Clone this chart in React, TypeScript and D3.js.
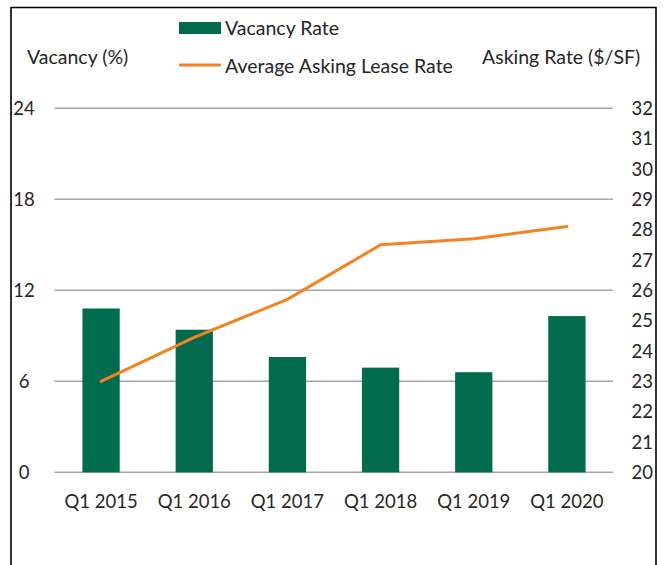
import React from "react";
import * as d3 from "d3";

const categories = ["Q1 2015", "Q1 2016", "Q1 2017", "Q1 2018", "Q1 2019", "Q1 2020"];
const vacancyRate = [10.8, 9.4, 7.6, 6.9, 6.6, 10.3];
const askingRate = [23.0, 24.45, 25.7, 27.5, 27.7, 28.1];
const leftTicks = [0, 6, 12, 18, 24];
const rightTicks = [20, 21, 22, 23, 24, 25, 26, 27, 28, 29, 30, 31, 32];

const W = 666;
const H = 565;
const FONT = "Lato, 'Open Sans', sans-serif";
const FS = 18.5;
const FS_T = 19.5;
const GREEN = "#006B4D";
const ORANGE = "#F58220";

export default function App() {
  const x = d3.scaleBand<string>().domain(categories).range([54.5, 613.5]).paddingInner(0.6).paddingOuter(0.3);
  const yL = d3.scaleLinear().domain([0, 24]).range([472.3, 108.3]);
  const yR = d3.scaleLinear().domain([20, 32]).range([472.3, 108.3]);
  const line = d3
    .line<number>()
    .x((_, i) => (x(categories[i]) as number) + x.bandwidth() / 2)
    .y((d) => yR(d));

  return (
    <svg
      width={W}
      height={H}
      style={{ position: "absolute", left: 0, top: 0, background: "#fff" }}
      fontFamily={FONT}
    >
      <rect x={0} y={0} width={W} height={H} fill="#fff" />
      {/* frame */}
      <path d={`M11,${H + 5} L11,7.5 L656,7.5 L656,${H + 5}`} fill="none" stroke="#000" strokeWidth={1.6} />

      {/* gridlines */}
      {leftTicks.map((t) => (
        <line key={t} x1={54.5} x2={613} y1={yL(t)} y2={yL(t)} stroke="#A6A6A6" strokeWidth={1.5} />
      ))}

      {/* bars */}
      {vacancyRate.map((v, i) => (
        <rect
          key={categories[i]}
          x={x(categories[i])}
          y={yL(v)}
          width={x.bandwidth()}
          height={yL(0) - yL(v)}
          fill={GREEN}
        />
      ))}

      {/* line */}
      <path d={line(askingRate) || ""} fill="none" stroke={ORANGE} strokeWidth={3} strokeLinejoin="round" strokeLinecap="round" />

      {/* left ticks */}
      {leftTicks.map((t) => (
        <text key={t} x={24} y={yL(t)} dy="0.36em" textAnchor="middle" fontSize={FS} fill="#262626">
          {t}
        </text>
      ))}
      {/* right ticks */}
      {rightTicks.map((t) => (
        <text key={t} x={631.5} y={yR(t)} dy="0.36em" textAnchor="start" fontSize={FS} fill="#262626">
          {t}
        </text>
      ))}
      {/* category labels */}
      {categories.map((c) => (
        <text key={c} x={(x(c) as number) + x.bandwidth() / 2} y={508} textAnchor="middle" fontSize={FS} fill="#262626">
          {c}
        </text>
      ))}

      {/* axis titles */}
      <text x={27} y={64} fontSize={FS_T} fill="#262626">Vacancy (%)</text>
      <text x={482} y={64} fontSize={FS_T} fill="#262626">Asking Rate ($/SF)</text>

      {/* legend */}
      <rect x={179} y={22} width={42} height={12} fill={GREEN} />
      <text x={225} y={34.5} fontSize={FS_T} fill="#262626">Vacancy Rate</text>
      <line x1={179} x2={221} y1={65} y2={65} stroke={ORANGE} strokeWidth={3} />
      <text x={225} y={73} fontSize={FS_T} fill="#262626">Average Asking Lease Rate</text>
    </svg>
  );
}
